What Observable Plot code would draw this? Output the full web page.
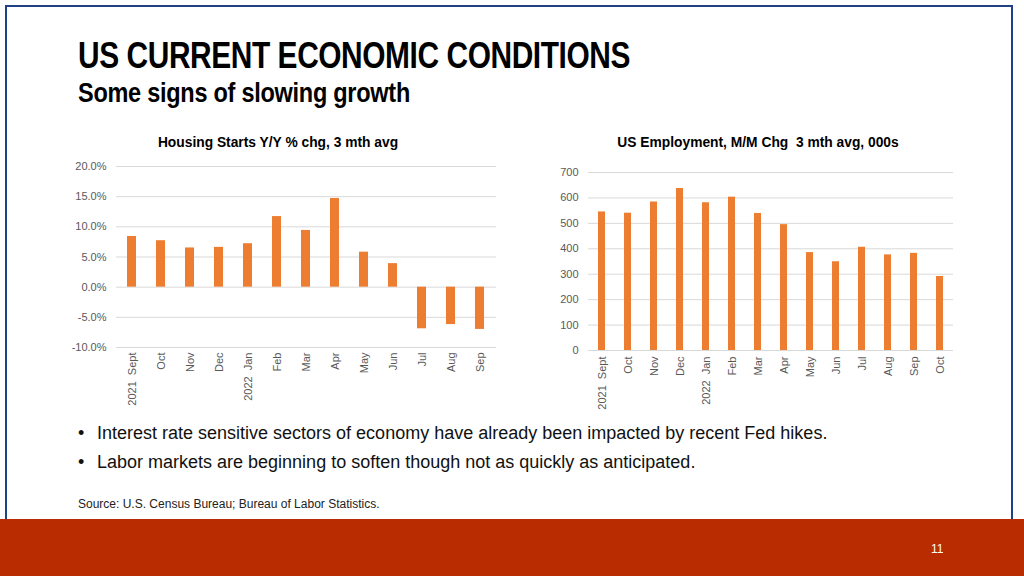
<!DOCTYPE html>
<html>
<head>
<meta charset="utf-8">
<script src="https://cdn.jsdelivr.net/npm/d3@7"></script>
<script src="https://cdn.jsdelivr.net/npm/@observablehq/plot@0.6"></script>
<style>
  html, body { margin: 0; padding: 0; background: #fff; }
  #page { position: relative; width: 1024px; height: 576px; overflow: hidden; background: #fff; font-family: "Liberation Sans", Arial, sans-serif; }
  #frame { position: absolute; left: 5px; top: 5px; width: 1008px; height: 540px; border: 2px solid #21408a; box-sizing: border-box; }
  #band { position: absolute; left: 0; top: 519px; width: 1024px; height: 57px; background: #b92b00; }
  #pnum { position: absolute; left: 931px; top: 542px; color: #fff; font-size: 12px; }
  #title { position: absolute; left: 78px; top: 36px; font-weight: bold; font-size: 36px; line-height: 40px; color: #000; white-space: nowrap; transform-origin: 0 0; transform: scaleX(0.83); letter-spacing: -0.5px; }
  #subtitle { position: absolute; left: 78px; top: 78px; font-weight: bold; font-size: 27px; line-height: 30px; color: #000; white-space: nowrap; transform-origin: 0 0; transform: scaleX(0.87); letter-spacing: -0.3px; }
  .ctitle { position: absolute; top: 135px; font-weight: bold; font-size: 13.8px; color: #000; white-space: nowrap; transform: translateX(-50%); }
  .chart { position: absolute; top: 155px; }
  .bullets { position: absolute; left: 78px; top: 423px; font-size: 18px; color: #111; }
  .bullets div { height: 29px; white-space: nowrap; }
  .bullets span.b { display: inline-block; width: 19px; }
  #source { position: absolute; left: 78px; top: 497px; font-size: 12px; color: #222; white-space: nowrap; }
</style>
</head>
<body>
<div id="page">
  <div id="frame"></div>
  <div id="band"></div>
  <div id="pnum">11</div>
  <div id="title">US CURRENT ECONOMIC CONDITIONS</div>
  <div id="subtitle">Some signs of slowing growth</div>
  <div class="ctitle" style="left:278px">Housing Starts Y/Y % chg, 3 mth avg</div>
  <div class="ctitle" style="left:758px">US Employment, M/M Chg&nbsp;&nbsp;3 mth avg, 000s</div>
  <div class="chart" id="c1" style="left:60px"></div>
  <div class="chart" id="c2" style="left:530px"></div>
  <div class="bullets">
    <div><span class="b">•</span>Interest rate sensitive sectors of economy have already been impacted by recent Fed hikes.</div>
    <div><span class="b">•</span>Labor markets are beginning to soften though not as quickly as anticipated.</div>
  </div>
  <div id="source">Source: U.S. Census Bureau; Bureau of Labor Statistics.</div>
</div>
<script>
// Housing starts, Y/Y % change, 3-month average
const housingLabels = ["2021\u00a0\u00a0Sept", "Oct", "Nov", "Dec", "2022\u00a0\u00a0Jan", "Feb", "Mar", "Apr", "May", "Jun", "Jul", "Aug", "Sep"];
const housingValues = [8.4, 7.7, 6.5, 6.6, 7.2, 11.7, 9.4, 14.7, 5.8, 3.9, -6.9, -6.2, -7.0];
const housingTicks = [-10, -5, 0, 5, 10, 15, 20];

// US employment, M/M change, 3-month average, thousands
const employmentLabels = ["2021\u00a0\u00a0Sept", "Oct", "Nov", "Dec", "2022\u00a0\u00a0Jan", "Feb", "Mar", "Apr", "May", "Jun", "Jul", "Aug", "Sep", "Oct"];
const employmentValues = [545, 540, 584, 637, 581, 603, 539, 495, 385, 349, 406, 376, 382, 291];
const employmentTicks = [0, 100, 200, 300, 400, 500, 600, 700];

const barColor = "#ed7d31";
const gridColor = "#d9d9d9";
const axisStyle = { fontFamily: "Liberation Sans, Arial, sans-serif", fontSize: "11px", color: "#595959", background: "transparent", overflow: "visible" };

const h = housingValues.map((v, i) => ({ i, v }));
const c1 = Plot.plot({
  width: 450, height: 262,
  marginLeft: 56, marginRight: 14, marginTop: 11, marginBottom: 70,
  style: axisStyle,
  x: { domain: d3.range(housingLabels.length), paddingInner: 0.68, paddingOuter: 0.34, tickFormat: i => housingLabels[i], tickRotate: -90, tickSize: 0, tickPadding: 5, label: null },
  y: { domain: [-10, 20], ticks: housingTicks, tickFormat: d => d.toFixed(1) + "%", tickSize: 0, tickPadding: 10, label: null },
  marks: [
    Plot.ruleY(housingTicks, { stroke: gridColor, strokeWidth: 1 }),
    Plot.barY(h, { x: "i", y: "v", fill: barColor })
  ]
});
document.getElementById("c1").appendChild(c1);

const e = employmentValues.map((v, i) => ({ i, v }));
const c2 = Plot.plot({
  width: 440, height: 265,
  marginLeft: 58, marginRight: 17, marginTop: 17, marginBottom: 70,
  style: axisStyle,
  x: { domain: d3.range(employmentLabels.length), paddingInner: 0.72, paddingOuter: 0.36, tickFormat: i => employmentLabels[i], tickRotate: -90, tickSize: 0, tickPadding: 6, label: null },
  y: { domain: [0, 700], ticks: employmentTicks, tickSize: 0, tickPadding: 10, label: null },
  marks: [
    Plot.ruleY(employmentTicks, { stroke: gridColor, strokeWidth: 1 }),
    Plot.barY(e, { x: "i", y: "v", fill: barColor })
  ]
});
document.getElementById("c2").appendChild(c2);
</script>
</body>
</html>
